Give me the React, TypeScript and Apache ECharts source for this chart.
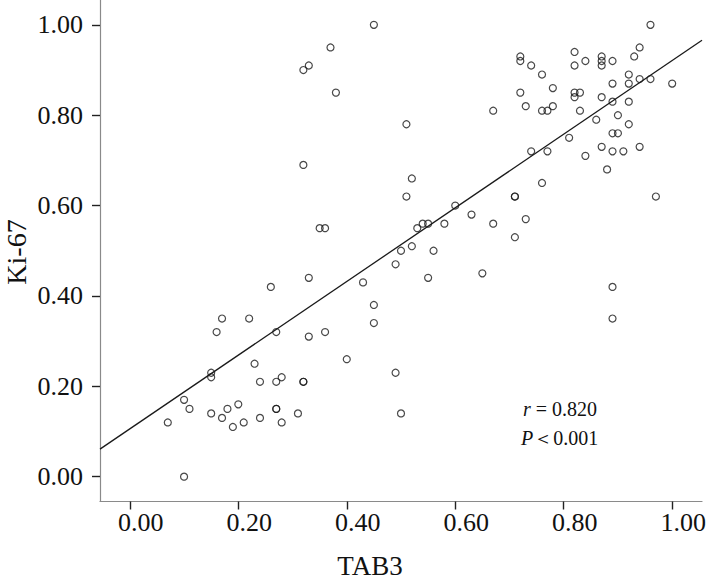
import React, { useEffect, useRef } from "react";
import * as echarts from "echarts";

const xTicks = [0, 0.2, 0.4, 0.6, 0.8, 1.0];
const yTicks = [0, 0.2, 0.4, 0.6, 0.8, 1.0];

const tab3 = [
  0.37, 0.33, 0.32, 0.38, 0.32, 0.35, 0.36, 0.45,
  0.72, 0.72, 0.74, 0.76, 0.72, 0.73, 0.67, 0.51, 0.74, 0.76, 0.52, 0.51, 0.71, 0.71,
  0.60, 0.63, 0.53, 0.54, 0.55, 0.58, 0.67, 0.73, 0.71, 0.52, 0.50, 0.56, 0.49, 0.43,
  0.55, 0.65, 0.45, 0.45, 0.40, 0.49, 0.50,
  0.33, 0.26, 0.17, 0.22, 0.16, 0.27, 0.33, 0.36, 0.15, 0.15, 0.23, 0.24, 0.27, 0.28,
  0.32, 0.32, 0.10, 0.11, 0.07, 0.15, 0.17, 0.18, 0.20, 0.19, 0.21, 0.24, 0.27, 0.27,
  0.28, 0.31, 0.10,
  0.96, 0.94, 0.93, 0.82, 0.82, 0.84, 0.87, 0.87, 0.87, 0.89, 0.92, 0.94, 0.96, 0.92,
  0.89, 1.00, 0.78, 0.82, 0.83, 0.82, 0.87, 0.89, 0.92, 0.76, 0.77, 0.78, 0.83, 0.86,
  0.90, 0.92, 0.81, 0.89, 0.90, 0.77, 0.87, 0.89, 0.91, 0.94, 0.84, 0.88, 0.97, 0.89,
  0.89,
];

const ki67 = [
  0.95, 0.91, 0.90, 0.85, 0.69, 0.55, 0.55, 1.00,
  0.93, 0.92, 0.91, 0.89, 0.85, 0.82, 0.81, 0.78, 0.72, 0.65, 0.66, 0.62, 0.62, 0.62,
  0.60, 0.58, 0.55, 0.56, 0.56, 0.56, 0.56, 0.57, 0.53, 0.51, 0.50, 0.50, 0.47, 0.43,
  0.44, 0.45, 0.38, 0.34, 0.26, 0.23, 0.14,
  0.44, 0.42, 0.35, 0.35, 0.32, 0.32, 0.31, 0.32, 0.23, 0.22, 0.25, 0.21, 0.21, 0.22,
  0.21, 0.21, 0.17, 0.15, 0.12, 0.14, 0.13, 0.15, 0.16, 0.11, 0.12, 0.13, 0.15, 0.15,
  0.12, 0.14, 0.00,
  1.00, 0.95, 0.93, 0.94, 0.91, 0.92, 0.93, 0.92, 0.91, 0.92, 0.89, 0.88, 0.88, 0.87,
  0.87, 0.87, 0.86, 0.85, 0.85, 0.84, 0.84, 0.83, 0.83, 0.81, 0.81, 0.82, 0.81, 0.79,
  0.80, 0.78, 0.75, 0.76, 0.76, 0.72, 0.73, 0.72, 0.72, 0.73, 0.71, 0.68, 0.62, 0.42,
  0.35,
];

const fitLineX = [-0.055, 1.055];
const fitLineY = [0.061, 0.966];

const FONT = '"Liberation Serif", "Times New Roman", "DejaVu Serif", serif';

export default function App() {
  const ref = useRef<HTMLDivElement>(null);

  useEffect(() => {
    if (!ref.current) return;
    const chart = echarts.init(ref.current, undefined, { renderer: "svg" });
    const points = tab3.map((x, i) => [x, ki67[i]]);
    const line = fitLineX.map((x, i) => [x, fitLineY[i]]);
    chart.setOption({
      animation: false,
      backgroundColor: "#ffffff",
      grid: { left: 100, right: 7, top: 0, bottom: 85.5 },
      xAxis: {
        type: "value",
        min: -0.055,
        max: 1.055,
        splitLine: { show: false },
        axisLine: { onZero: false, lineStyle: { color: "#8a8a8a", width: 1.2 } },
        axisTick: {
          customValues: xTicks,
          length: 8,
          lineStyle: { color: "#222", width: 1.4 },
        },
        axisLabel: {
          customValues: xTicks,
          formatter: (v: number) => v.toFixed(2),
          fontFamily: FONT,
          fontSize: 26,
          color: "#111",
          margin: 8,
          padding: [0, 0, 0, 22],
        },
      },
      yAxis: {
        type: "value",
        min: -0.055,
        max: 1.055,
        splitLine: { show: false },
        axisLine: { onZero: false, lineStyle: { color: "#8a8a8a", width: 1.2 } },
        axisTick: {
          customValues: yTicks,
          length: 8,
          lineStyle: { color: "#222", width: 1.4 },
        },
        axisLabel: {
          customValues: yTicks,
          formatter: (v: number) => v.toFixed(2),
          fontFamily: FONT,
          fontSize: 26,
          color: "#111",
          margin: 17,
        },
      },
      series: [
        {
          type: "line",
          data: line,
          showSymbol: false,
          lineStyle: { color: "#1a1a1a", width: 1.3 },
          z: 2,
        },
        {
          type: "scatter",
          data: points,
          symbol: "circle",
          symbolSize: 7,
          itemStyle: {
            color: "rgba(255,255,255,0)",
            borderColor: "#1a1a1a",
            borderWidth: 1.2,
          },
          z: 3,
        },
      ],
      graphic: [
        {
          type: "text",
          x: 16,
          y: 252,
          rotation: Math.PI / 2,
          style: {
            text: "Ki-67",
            fontFamily: FONT,
            fontSize: 28,
            fill: "#111",
            align: "center",
            verticalAlign: "middle",
          },
        },
        {
          type: "text",
          x: 370,
          y: 566,
          style: {
            text: "TAB3",
            fontFamily: FONT,
            fontSize: 27,
            fill: "#111",
            align: "center",
            verticalAlign: "middle",
          },
        },
        {
          type: "text",
          x: 523,
          y: 409,
          style: {
            text: "{i|r} = 0.820",
            fontFamily: FONT,
            fontSize: 20,
            fill: "#111",
            align: "left",
            verticalAlign: "middle",
            rich: {
              i: { fontFamily: FONT, fontSize: 20, fontStyle: "italic", fill: "#111" },
            },
          },
        },
        {
          type: "text",
          x: 521,
          y: 438,
          style: {
            text: "{i|P}＜0.001",
            fontFamily: FONT,
            fontSize: 20,
            fill: "#111",
            align: "left",
            verticalAlign: "middle",
            rich: {
              i: { fontFamily: FONT, fontSize: 20, fontStyle: "italic", fill: "#111" },
            },
          },
        },
      ],
    });
    return () => chart.dispose();
  }, []);

  return (
    <div
      ref={ref}
      style={{ position: "fixed", left: 0, top: 0, width: 709, height: 587, background: "#fff" }}
    />
  );
}
